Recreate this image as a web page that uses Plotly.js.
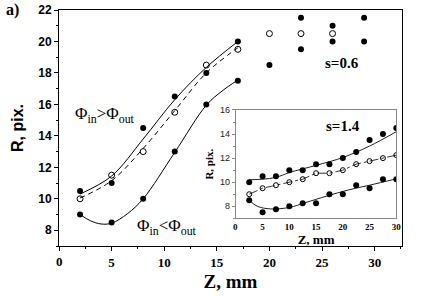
<!DOCTYPE html>
<html>
<head>
<meta charset="utf-8">
<script src="https://cdn.plot.ly/plotly-3.0.1.min.js"></script>
<style>html,body{margin:0;padding:0;background:#fff;}#chart{width:443px;height:302px;}</style>
</head>
<body>
<div id="chart"></div>
<script>
// ---- main panel data (s = 0.6) ----
const mainZ        = [2, 5, 8, 11, 14, 17];
const upperFilledR = [10.5, 11, 14.5, 16.5, 18, 20];
const openR        = [10, 11.5, 13, 15.5, 18.5, 19.5];
const lowerFilledR = [9, 8.5, 10, 13, 16, 17.5];
const extraFilledZ = [20, 23, 23, 26, 26, 29, 29];
const extraFilledR = [18.5, 21.5, 19.5, 21, 20, 21.5, 20];
const extraOpenZ   = [20, 23, 26];
const extraOpenR   = [20.5, 20.5, 20.5];
// fitted curves
const fitUpperZ = [2, 5, 8, 11, 14, 17];
const fitUpperR = [10.3, 11.45, 13.8, 16.3, 18.35, 20.0];
const fitDashZ  = [2, 5, 8, 11, 14, 17];
const fitDashR  = [10.05, 11.15, 13.2, 15.6, 18.0, 19.6];
const fitLowerZ = [2, 3, 4, 5, 6.5, 8, 11, 14, 15.5, 17];
const fitLowerR = [9.0, 8.6, 8.4, 8.45, 9.05, 10.0, 12.95, 15.95, 16.85, 17.55];
// tick labels
const mainXTicks  = [0, 5, 10, 15, 20, 25, 30];
const mainYTicks  = [8, 10, 12, 14, 16, 18, 20, 22];
const insetXTicks = [0, 5, 10, 15, 20, 25, 30];
const insetYTicks = [8, 10, 12, 14, 16];

// ---- inset data (s = 1.4) ----
const insetZ      = [2.5, 5, 7.5, 10, 12.5, 15, 17.5, 20, 22.5, 25, 27.5, 30];
const insetUpperR = [10, 10.5, 10.5, 11, 11, 11.5, 11.5, 12, 12.5, 13.5, 14, 14.5];
const insetOpenR  = [9, 9.5, 9.75, 10, 10.25, 10.75, 10.75, 11, 11.5, 11.75, 12, 12.25];
const insetLowerR = [8.5, 7.5, 7.75, 8, 8.25, 8.25, 9, 9, 9.75, 9.5, 10.25, 10.25];
const insetFitUpperZ = [2.5, 5, 7.5, 10, 15, 20, 25, 30];
const insetFitUpperR = [10.2, 10.25, 10.4, 10.8, 11.4, 12.05, 13.0, 14.2];
const insetFitLowerZ = [2.5, 4, 6.5, 10, 13, 17, 21, 25, 30];
const insetFitLowerR = [8.5, 8.0, 7.78, 7.9, 8.3, 8.85, 9.35, 9.75, 10.28];

const filled = {symbol: 'circle', size: 6, color: '#000'};
const open = {symbol: 'circle-open', size: 6, color: '#000', line: {width: 1, color: '#000'}};
const iFilled = {symbol: 'circle', size: 6, color: '#000'};
const iOpen = {symbol: 'circle-open', size: 5, color: '#000', line: {width: 1, color: '#000'}};

const traces = [
  {x: fitUpperZ, y: fitUpperR, mode: 'lines', line: {color: '#000', width: 1, shape: 'spline'}},
  {x: fitDashZ, y: fitDashR, mode: 'lines', line: {color: '#000', width: 1, dash: '5px,4px', shape: 'spline'}},
  {x: fitLowerZ, y: fitLowerR, mode: 'lines', line: {color: '#000', width: 1, shape: 'spline'}},
  {x: mainZ, y: upperFilledR, mode: 'markers', marker: filled},
  {x: mainZ, y: openR, mode: 'markers', marker: open},
  {x: mainZ, y: lowerFilledR, mode: 'markers', marker: filled},
  {x: extraFilledZ, y: extraFilledR, mode: 'markers', marker: filled},
  {x: extraOpenZ, y: extraOpenR, mode: 'markers', marker: open},
  // inset
  {x: insetFitUpperZ, y: insetFitUpperR, xaxis: 'x2', yaxis: 'y2', mode: 'lines', line: {color: '#222', width: 1, shape: 'spline'}},
  {x: insetFitLowerZ, y: insetFitLowerR, xaxis: 'x2', yaxis: 'y2', mode: 'lines', line: {color: '#222', width: 1, shape: 'spline'}},
  {x: insetZ, y: insetOpenR, xaxis: 'x2', yaxis: 'y2', mode: 'lines', line: {color: '#333', width: 1, dash: 'dashdot'}},
  {x: insetZ, y: insetUpperR, xaxis: 'x2', yaxis: 'y2', mode: 'markers', marker: iFilled},
  {x: insetZ, y: insetOpenR, xaxis: 'x2', yaxis: 'y2', mode: 'markers', marker: iOpen},
  {x: insetZ, y: insetLowerR, xaxis: 'x2', yaxis: 'y2', mode: 'markers', marker: iFilled}
];

const serif = 'Liberation Serif';
const sans = 'Liberation Sans';
// the tick label on the axis corner is not shown by Plotly here, so it is drawn as a paper annotation
const labelOf = v => (v === mainXTicks[0] ? '' : String(v));
const mainXDomain = [0, 1];
const insetXDomain = [0.5156, 0.9834];
const insetYDomain = [0.1174, 0.5763];

const layout = {
  width: 443, height: 302,
  margin: {l: 59, r: 41, t: 10, b: 56},
  paper_bgcolor: '#fff', plot_bgcolor: '#fff',
  showlegend: false,
  xaxis: {
    domain: mainXDomain,
    range: [0, 32.6], tickmode: 'array', tickvals: mainXTicks, ticktext: mainXTicks.map(labelOf),
    ticks: 'outside', ticklen: 4, tickwidth: 1, tickcolor: '#000',
    minor: {dtick: 2.5, tick0: 0, ticks: 'outside', ticklen: 2, tickcolor: '#000'},
    showline: true, linecolor: '#000', linewidth: 1, mirror: true,
    showgrid: false, zeroline: false,
    tickfont: {family: serif, size: 13, weight: 'bold', color: '#000'},
    title: {text: 'Z, mm', font: {family: serif, size: 19, weight: 'bold', color: '#000'}, standoff: 6}
  },
  yaxis: {
    range: [7, 22], tickmode: 'array', tickvals: mainYTicks,
    ticks: 'outside', ticklen: 4, tickwidth: 1, tickcolor: '#000',
    minor: {dtick: 1, tick0: 0, ticks: 'outside', ticklen: 2, tickcolor: '#000'},
    showline: true, linecolor: '#000', linewidth: 1, mirror: true,
    showgrid: false, zeroline: false,
    tickfont: {family: sans, size: 12, weight: 'bold', color: '#000'},
    title: {text: 'R, pix.', font: {family: sans, size: 16, weight: 'bold', color: '#000'}, standoff: 10}
  },
  xaxis2: {
    domain: insetXDomain, anchor: 'y2',
    range: [0, 30], tickmode: 'array', tickvals: insetXTicks, ticktext: insetXTicks.map(labelOf), ticks: '',
    showline: true, linecolor: '#888', linewidth: 1, mirror: true,
    showgrid: false, zeroline: false,
    tickfont: {family: serif, size: 9, weight: 'bold', color: '#000'},
    title: {text: 'Z, mm', font: {family: serif, size: 13, weight: 'bold', color: '#000'}, standoff: 0}
  },
  yaxis2: {
    domain: insetYDomain, anchor: 'x2',
    range: [7, 16], tickmode: 'array', tickvals: insetYTicks,
    ticks: 'outside', ticklen: 3, tickwidth: 1, tickcolor: '#888',
    minor: {dtick: 1, tick0: 0, ticks: 'outside', ticklen: 2, tickcolor: '#888'},
    showline: true, linecolor: '#888', linewidth: 1, mirror: true,
    showgrid: false, zeroline: false,
    tickfont: {family: sans, size: 9, color: '#222'},
    title: {text: 'R, pix.', font: {family: serif, size: 11, weight: 'bold', color: '#000'}, standoff: 4}
  },
  annotations: [
    {xref: 'paper', yref: 'paper', x: mainXDomain[0], y: 0, yshift: -15, xanchor: 'center', yanchor: 'middle', showarrow: false,
     text: String(mainXTicks[0]), font: {family: serif, size: 13, weight: 'bold', color: '#000'}},
    {xref: 'paper', yref: 'paper', x: insetXDomain[0], y: insetYDomain[0], yshift: -9, xanchor: 'center', yanchor: 'middle', showarrow: false,
     text: String(insetXTicks[0]), font: {family: serif, size: 9, weight: 'bold', color: '#000'}},
    {xref: 'paper', yref: 'paper', x: -0.135, y: 1.0, xanchor: 'center', yanchor: 'middle', showarrow: false,
     text: 'a)', font: {family: serif, size: 16, weight: 'bold', color: '#000'}},
    {xref: 'x', yref: 'y', x: 4.4, y: 15.3, xanchor: 'center', yanchor: 'middle', showarrow: false,
     text: 'Φ<sub>in</sub>&gt;Φ<sub>out</sub>', font: {family: serif, size: 17, color: '#000'}},
    {xref: 'x', yref: 'y', x: 10.3, y: 8.2, xanchor: 'center', yanchor: 'middle', showarrow: false,
     text: 'Φ<sub>in</sub>&lt;Φ<sub>out</sub>', font: {family: serif, size: 17, color: '#000'}},
    {xref: 'x', yref: 'y', x: 26.9, y: 18.6, xanchor: 'center', yanchor: 'middle', showarrow: false,
     text: 's=0.6', font: {family: serif, size: 15, weight: 'bold', color: '#000'}},
    {xref: 'x2', yref: 'y2', x: 20.1, y: 14.7, xanchor: 'center', yanchor: 'middle', showarrow: false,
     text: 's=1.4', font: {family: serif, size: 15, weight: 'bold', color: '#000'}}
  ]
};

Plotly.newPlot('chart', traces, layout, {displayModeBar: false, staticPlot: true});
</script>
</body>
</html>
